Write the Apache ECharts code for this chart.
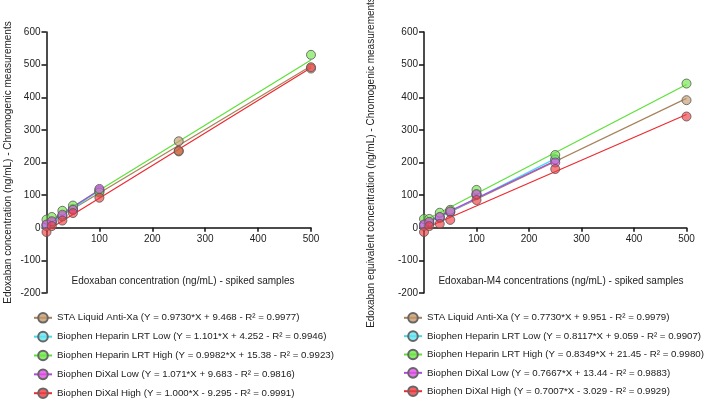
<!DOCTYPE html>
<html><head><meta charset="utf-8">
<script src="https://cdn.jsdelivr.net/npm/echarts@6/dist/echarts.min.js"></script>
<style>html,body{margin:0;padding:0;background:#fff}#c{width:709px;height:402px}</style>
</head><body><div id="c"></div>
<script>
// Spiked concentrations (x)
const xLevels = [0, 10, 30, 50, 100, 250, 500];

// Left panel: Edoxaban
const edoSTA       = [8, 18, 35, 55, 112, 265, 488];
const edoLRTLow    = [5, 15, 36, 58, 115];
const edoLRTHigh   = [25, 33, 52, 68, 108, 234, 530];
const edoDiXalLow  = [10, 20, 40, 55, 119];
const edoDiXalHigh = [-13, 5, 22, 45, 92, 236, 492];
const edoSlopes     = ["0.9730", "1.101", "0.9982", "1.071", "1.000"];
const edoIntercepts = ["9.468", "4.252", "15.38", "9.683", "-9.295"];
const edoR2         = ["0.9977", "0.9946", "0.9923", "0.9816", "0.9991"];

// Right panel: Edoxaban-M4
const m4STA       = [8, 15, 30, 47, 100, 208, 391];
const m4LRTLow    = [5, 14, 32, 50, 103, 210];
const m4LRTHigh   = [27, 27, 46, 55, 116, 223, 442];
const m4DiXalLow  = [10, 18, 33, 50, 103, 200];
const m4DiXalHigh = [-13, 5, 12, 24, 85, 180, 341];
const m4Slopes     = ["0.7730", "0.8117", "0.8349", "0.7667", "0.7007"];
const m4Intercepts = ["9.951", "9.059", "21.45", "13.44", "-3.029"];
const m4R2         = ["0.9979", "0.9907", "0.9980", "0.9883", "0.9929"];

const methods = ["STA Liquid Anti-Xa", "Biophen Heparin LRT Low", "Biophen Heparin LRT High", "Biophen DiXal Low", "Biophen DiXal High"];
const yTicks = [-200, -100, 0, 100, 200, 300, 400, 500, 600];
const xTicks = [0, 100, 200, 300, 400, 500];

const fillColors = ["rgba(196,154,108,0.8)", "rgba(100,228,240,0.8)", "rgba(110,230,70,0.8)", "rgba(224,80,230,0.8)", "rgba(238,60,64,0.8)"];
const lineColors = ["#a8825a", "#40dcec", "#5ee03a", "#b048e0", "#ec2a30"];

const FONT = "Liberation Sans";
const GRID_TOP = 32, GRID_H = 261;
// distance from grid bottom (y=-200) up to y=0
const zeroOffset = GRID_H * (0 - yTicks[0]) / (yTicks[yTicks.length - 1] - yTicks[0]);

function eqName(i, s, b, r) {
  const bv = parseFloat(b);
  const sign = bv < 0 ? "- " + b.replace("-", "") : "+ " + b;
  return methods[i] + " (Y = " + s + "*X " + sign + " - R² = " + r + ")";
}

const series = [];
const legends = [[], []];
function addPanel(p, sets, slopes, ints, r2) {
  sets.forEach((vals, i) => {
    const name = eqName(i, slopes[i], ints[i], r2[i]);
    legends[p].push(name);
    const xs = xLevels.slice(0, vals.length);
    const xmax = xs[xs.length - 1];
    const m = parseFloat(slopes[i]), b = parseFloat(ints[i]);
    series.push({
      type: "line", name: name, xAxisIndex: p, yAxisIndex: p,
      data: [[0, b], [xmax, m * xmax + b]],
      showSymbol: false, symbol: "circle", symbolSize: 9,
      lineStyle: { color: lineColors[i], width: 1.2 },
      itemStyle: { color: fillColors[i], borderColor: "#666", borderWidth: 1 },
      silent: true, z: 2, animation: false
    });
    series.push({
      type: "scatter", name: name, xAxisIndex: p, yAxisIndex: p,
      data: xs.map((x, k) => [x, vals[k]]),
      symbol: "circle", symbolSize: 9,
      itemStyle: { color: fillColors[i], borderColor: "#555", borderWidth: 1 },
      z: 3, animation: false
    });
  });
}
addPanel(0, [edoSTA, edoLRTLow, edoLRTHigh, edoDiXalLow, edoDiXalHigh], edoSlopes, edoIntercepts, edoR2);
addPanel(1, [m4STA, m4LRTLow, m4LRTHigh, m4DiXalLow, m4DiXalHigh], m4Slopes, m4Intercepts, m4R2);

function xAx(gi) {
  return {
    type: "value", gridIndex: gi, min: xTicks[0], max: xTicks[xTicks.length - 1], interval: 100,
    position: "bottom", offset: -zeroOffset,
    splitLine: { show: false },
    axisLine: { onZero: false, lineStyle: { color: "#111", width: 1.5 } },
    axisTick: { show: true, length: 4, lineStyle: { color: "#111", width: 1.5 } },
    axisLabel: { color: "#222", fontSize: 10, fontFamily: FONT, margin: 6,
      formatter: v => (v === 0 ? "" : String(v)) }
  };
}
function yAx(gi, name, gap) {
  return {
    type: "value", gridIndex: gi, min: yTicks[0], max: yTicks[yTicks.length - 1], interval: 100,
    splitLine: { show: false },
    axisLine: { show: true, onZero: false, lineStyle: { color: "#111", width: 1.5 } },
    axisTick: { show: true, length: 5, lineStyle: { color: "#111", width: 1.5 } },
    axisLabel: { color: "#222", fontSize: 10, fontFamily: FONT, margin: 6 },
    name: name, nameLocation: "middle", nameGap: gap, nameRotate: 90,
    nameTextStyle: { color: "#222", fontSize: 10, fontFamily: FONT }
  };
}

const option = {
  backgroundColor: "#fff",
  animation: false,
  grid: [
    { left: 46.5, top: GRID_TOP, width: 264.5, height: GRID_H, outerBoundsMode: "none", containLabel: false },
    { left: 424, top: GRID_TOP, width: 262.5, height: GRID_H, outerBoundsMode: "none", containLabel: false }
  ],
  xAxis: [xAx(0), xAx(1)],
  yAxis: [
    yAx(0, "Edoxaban concentration (ng/mL) - Chromogenic measurements", 33),
    yAx(1, "Edoxaban equivalent concentration (ng/mL) - Chromogenic measurements", 48)
  ],
  title: [
    { text: "Edoxaban concentration (ng/mL) - spiked samples", left: 178, top: 271, textAlign: "center",
      textStyle: { color: "#222", fontSize: 10, fontWeight: "normal", fontFamily: FONT } },
    { text: "Edoxaban-M4 concentrations (ng/mL) - spiked samples", left: 556, top: 271, textAlign: "center",
      textStyle: { color: "#222", fontSize: 10, fontWeight: "normal", fontFamily: FONT } }
  ],
  legend: [
    { data: legends[0], orient: "vertical", left: 33, top: 312, height: 100, padding: 0,
      itemWidth: 18, itemHeight: 12, itemGap: 7.25,
      textStyle: { color: "#222", fontSize: 9.7, fontFamily: FONT }, selectedMode: false },
    { data: legends[1], orient: "vertical", left: 403, top: 312, height: 100, padding: 0,
      itemWidth: 18, itemHeight: 12, itemGap: 6.75,
      textStyle: { color: "#222", fontSize: 9.7, fontFamily: FONT }, selectedMode: false }
  ],
  series: series
};
const chart = echarts.init(document.getElementById("c"), null, { renderer: "canvas" });
chart.setOption(option);
</script></body></html>
